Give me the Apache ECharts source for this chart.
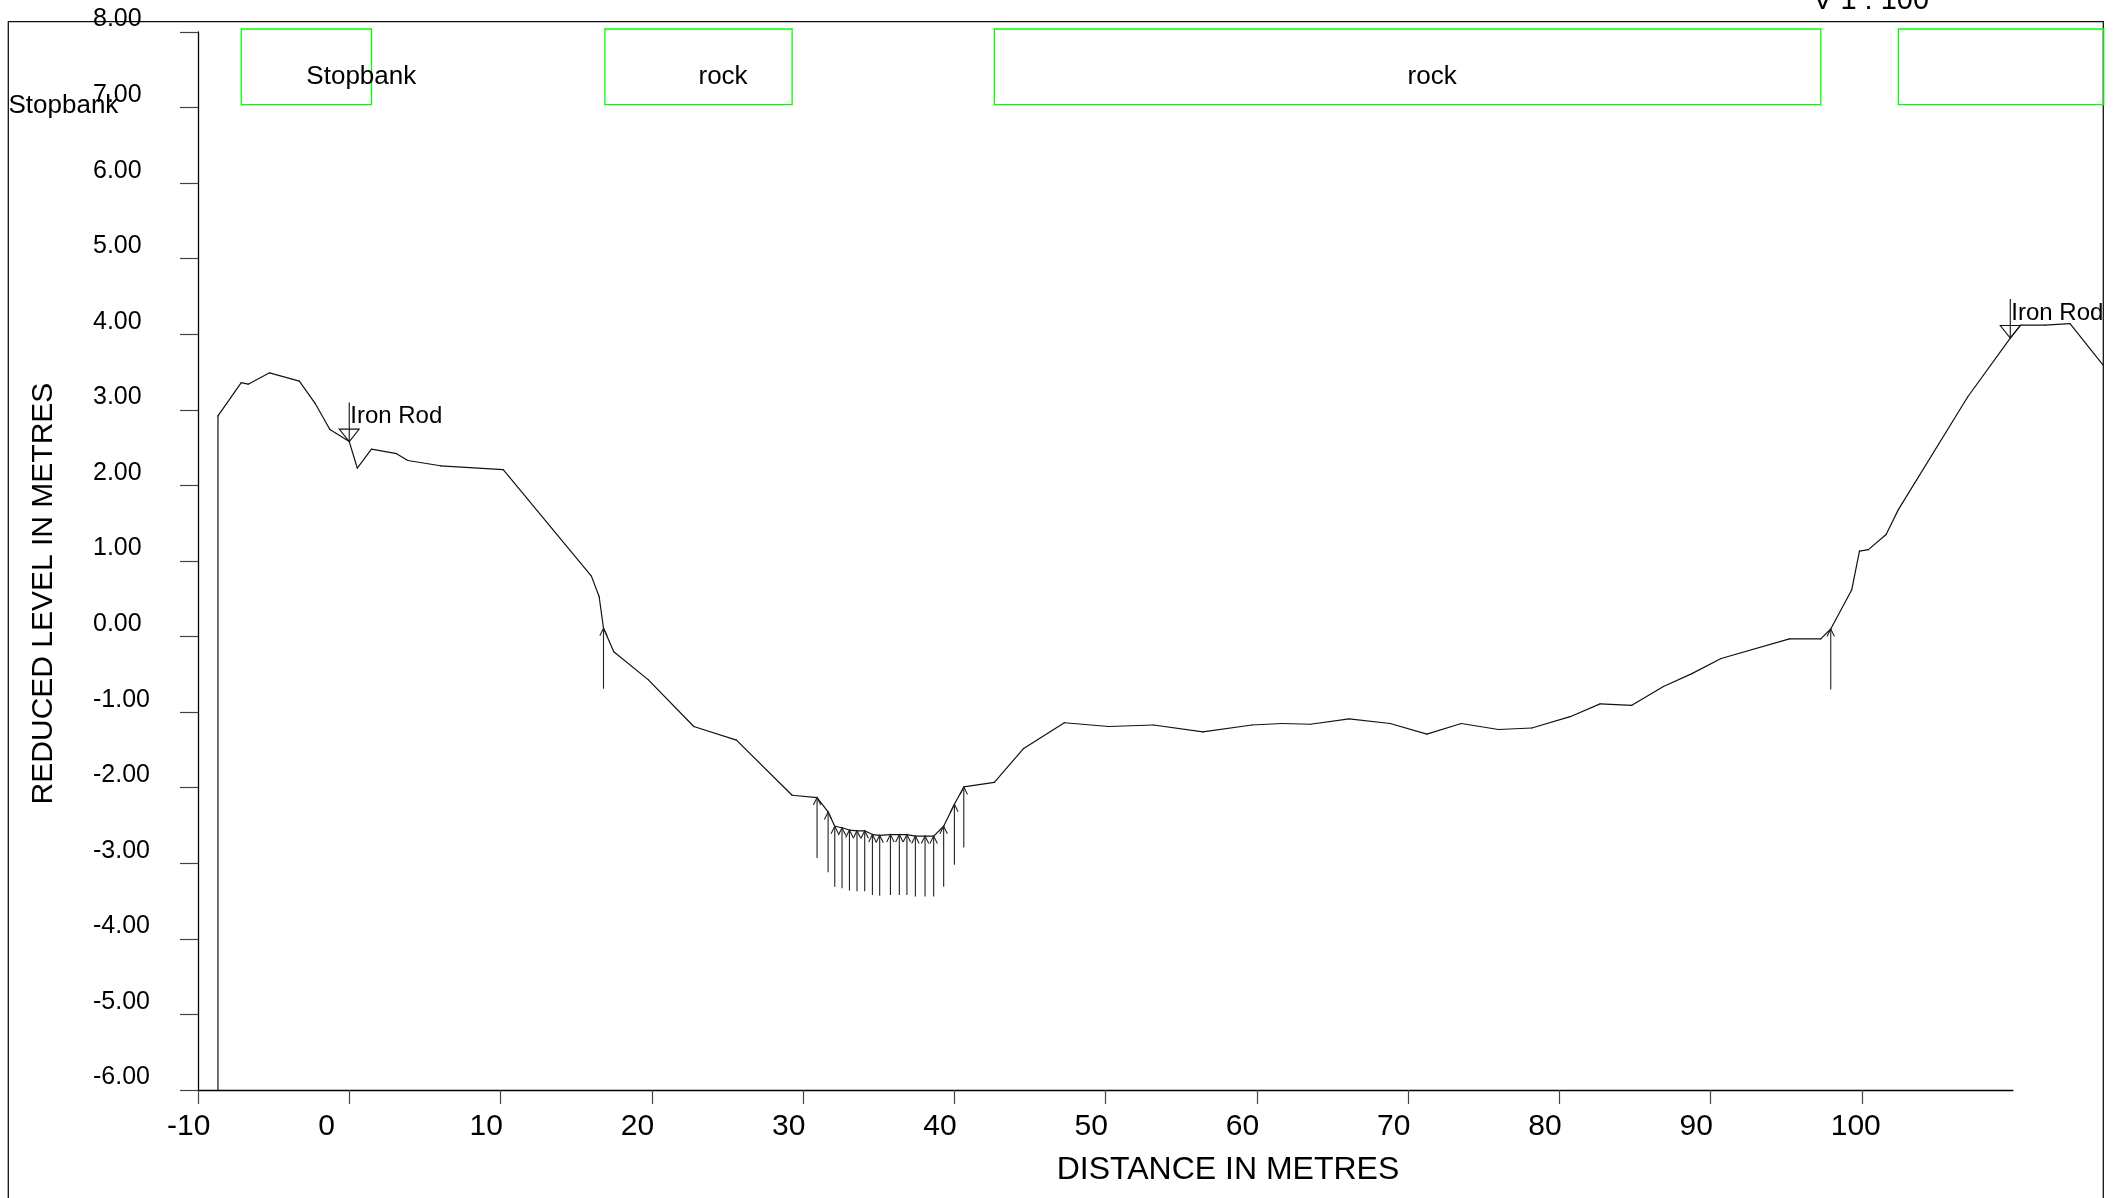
<!DOCTYPE html>
<html><head><meta charset="utf-8">
<script src="https://cdn.jsdelivr.net/npm/echarts@6/dist/echarts.min.js"></script>
<style>html,body{margin:0;padding:0;background:#fff;overflow:hidden}#c{width:2127px;height:1198px}</style>
</head><body><div id="c"></div>
<script>
// ---- DATA ----
const distances = [-8.68, -8.68, -7.14, -6.68, -5.27, -3.30, -2.27, -1.28, 0, 0.53, 1.47, 3.13, 3.87, 6.03, 10.18,
  16.01, 16.52, 16.81, 17.49, 19.76, 22.78, 25.60, 29.28, 30.93, 31.66, 32.10, 32.58, 33.07, 33.57, 34.08,
  34.59, 35.07, 35.78, 36.37, 36.87, 37.43, 38.07, 38.64, 39.30, 40.01, 40.63, 42.65, 44.59, 47.28, 50.21,
  53.18, 56.44, 59.68, 61.66, 63.54, 66.11, 68.82, 71.25, 73.52, 75.98, 78.19, 80.72, 82.70, 84.80, 86.89,
  88.77, 90.70, 95.22, 97.29, 97.95, 99.34, 99.85, 100.44, 101.61, 102.42, 107.0, 109.82, 110.5, 112.1, 113.77, 115.93];
const levels = [-6.00, 2.92, 3.36, 3.34, 3.49, 3.38, 3.09, 2.74, 2.58, 2.23, 2.48, 2.42, 2.33, 2.26, 2.21,
  0.80, 0.53, 0.11, -0.20, -0.57, -1.19, -1.37, -2.10, -2.13, -2.32, -2.51, -2.53, -2.56, -2.57, -2.57,
  -2.62, -2.63, -2.62, -2.62, -2.62, -2.64, -2.64, -2.64, -2.51, -2.22, -1.99, -1.93, -1.48, -1.14, -1.19,
  -1.17, -1.26, -1.17, -1.15, -1.16, -1.09, -1.15, -1.29, -1.15, -1.23, -1.21, -1.06, -0.89, -0.91, -0.66,
  -0.49, -0.29, -0.03, -0.03, 0.10, 0.62, 1.13, 1.15, 1.35, 1.68, 3.17, 3.95, 4.12, 4.12, 4.14, 3.60];
// stations with water-level arrows (distance), arrow depth below ground in metres
const arrowStations = [16.81, 30.93, 31.66, 32.10, 32.58, 33.07, 33.57, 34.08, 34.59, 35.07, 35.78, 36.37,
  36.87, 37.43, 38.07, 38.64, 39.30, 40.01, 40.63, 97.95];
const arrowDepth = 0.8;
// iron rod survey marks
const rodDistances = [0, 109.82];
const rodLabels = ['Iron Rod', 'Iron Rod'];
// stopbank / rock zones
const zoneStart = [-7.14, 16.90, 42.65, 102.42];
const zoneEnd = [1.47, 29.28, 97.29, 116.0];
const zoneLabels = ['Stopbank', 'rock', 'rock', ''];
// ticks
const xTicks = [-10, 0, 10, 20, 30, 40, 50, 60, 70, 80, 90, 100];
const yTickMin = -6, yTickMax = 8, yTickStep = 1;

// ---- CHART ----
const FONT = '"Liberation Sans", Arial, sans-serif';
const levelAt = d => levels[distances.lastIndexOf(d)];
const profile = distances.map((d, i) => [d, levels[i]]);
const arrows = arrowStations.map(d => [d, levelAt(d), levelAt(d) - arrowDepth]);
const rods = rodDistances.map((d, i) => [d, levelAt(d), rodLabels[i]]);
const zones = zoneStart.map((s, i) => [s, zoneEnd[i], zoneLabels[i]]);
const ZONE_TOP = 8.04, ZONE_BOTTOM = 7.04;

const chart = echarts.init(document.getElementById('c'), null, {renderer: 'canvas'});
chart.setOption({
  animation: false,
  backgroundColor: '#fff',
  grid: {left: 198, right: 114, top: 32, bottom: 108},
  xAxis: {
    type: 'value', min: -10, max: 110, interval: 10,
    axisLine: {onZero: false, lineStyle: {color: '#000', width: 1.3}},
    axisTick: {length: 14, customValues: xTicks, lineStyle: {color: '#444', width: 1.2}},
    splitLine: {show: false},
    axisLabel: {
      customValues: xTicks, margin: 22, align: 'center',
      formatter: v => '{t|' + v + '}',
      rich: {t: {width: 62, align: 'left', fontSize: 30, fontFamily: FONT, color: '#000'}}
    }
  },
  yAxis: {
    type: 'value', min: yTickMin, max: yTickMax, interval: yTickStep,
    axisLine: {onZero: false, lineStyle: {color: '#000', width: 1.3}},
    axisTick: {length: 18, lineStyle: {color: '#444', width: 1.2}},
    splitLine: {show: false},
    axisLabel: {
      margin: 105, align: 'left', verticalAlign: 'bottom', lineHeight: 25,
      fontSize: 25, fontFamily: FONT, color: '#000',
      formatter: v => v.toFixed(2)
    }
  },
  graphic: [
    {type: 'rect', z: -10, silent: true, shape: {x: 8.3, y: 21.7, width: 2095, height: 1300},
      style: {fill: 'none', stroke: '#111', lineWidth: 1.3}},
    {type: 'text', left: 8.5, top: 93, style: {text: 'Stopbank', font: '26px ' + FONT, fill: '#000'}},
    {type: 'text', x: 1813, y: 15, style: {text: 'V 1 : 100', font: '29px ' + FONT, fill: '#000', verticalAlign: 'bottom'}},
    {type: 'text', x: 1228, y: 1170, style: {text: 'DISTANCE IN METRES', font: '32px ' + FONT, fill: '#000', align: 'center', verticalAlign: 'middle'}},
    {type: 'text', x: 43.5, y: 593.5, rotation: Math.PI / 2, style: {text: 'REDUCED LEVEL IN METRES', font: '30px ' + FONT, fill: '#000', align: 'center', verticalAlign: 'middle'}}
  ],
  series: [
    {
      // ground profile, drawn segment by segment so that it may run past the axis end up to the frame
      name: 'Ground', type: 'custom', data: profile, clip: false, z: 3,
      renderItem: (params, api) => {
        const i = params.dataIndex;
        if (i >= profile.length - 1) return {type: 'group', children: []};
        const p = api.coord(profile[i]);
        const q = api.coord(profile[i + 1]);
        return {type: 'line', shape: {x1: p[0], y1: p[1], x2: q[0], y2: q[1]},
          style: {stroke: '#111', lineWidth: 1.2, lineCap: 'round'}};
      }
    },
    {
      name: 'Water', type: 'custom', data: arrows, clip: false, z: 4,
      renderItem: (params, api) => {
        const top = api.coord([api.value(0), api.value(1)]);
        const bot = api.coord([api.value(0), api.value(2)]);
        const st = {stroke: '#222', lineWidth: 1.1, fill: 'none'};
        return {type: 'group', children: [
          {type: 'line', shape: {x1: bot[0], y1: bot[1], x2: top[0], y2: top[1]}, style: st},
          {type: 'polyline', shape: {points: [[top[0] - 3.7, top[1] + 7.5], [top[0], top[1]], [top[0] + 3.7, top[1] + 7.5]]}, style: st}
        ]};
      }
    },
    {
      name: 'Iron Rod', type: 'custom', data: rods, clip: false, z: 5,
      renderItem: (params, api) => {
        const p = api.coord([api.value(0), api.value(1)]);
        const st = {stroke: '#111', lineWidth: 1.1, fill: 'none'};
        return {type: 'group', children: [
          {type: 'line', shape: {x1: p[0], y1: p[1] - 39, x2: p[0], y2: p[1]}, style: st},
          {type: 'polygon', shape: {points: [[p[0] - 10, p[1] - 12.5], [p[0] + 10, p[1] - 12.5], [p[0], p[1]]]}, style: st},
          {type: 'text', style: {text: api.value(2), x: p[0] + 1, y: p[1] - 13, font: '24px ' + FONT, fill: '#000', align: 'left', verticalAlign: 'bottom'}}
        ]};
      }
    },
    {
      name: 'Zones', type: 'custom', data: zones, clip: false, z: 2,
      renderItem: (params, api) => {
        const a = api.coord([api.value(0), ZONE_TOP]);
        const b = api.coord([api.value(1), ZONE_BOTTOM]);
        const cx = (a[0] + b[0]) / 2, cy = (a[1] + b[1]) / 2;
        return {type: 'group', children: [
          {type: 'rect', shape: {x: a[0], y: a[1], width: b[0] - a[0], height: b[1] - a[1]},
            style: {stroke: '#00ff00', lineWidth: 1.3, fill: 'none'}},
          {type: 'text', style: {text: api.value(2), x: cx, y: cy + 10.5, font: '26px ' + FONT, fill: '#000', align: 'left', verticalAlign: 'middle'}}
        ]};
      }
    }
  ]
});
</script>
</body></html>
